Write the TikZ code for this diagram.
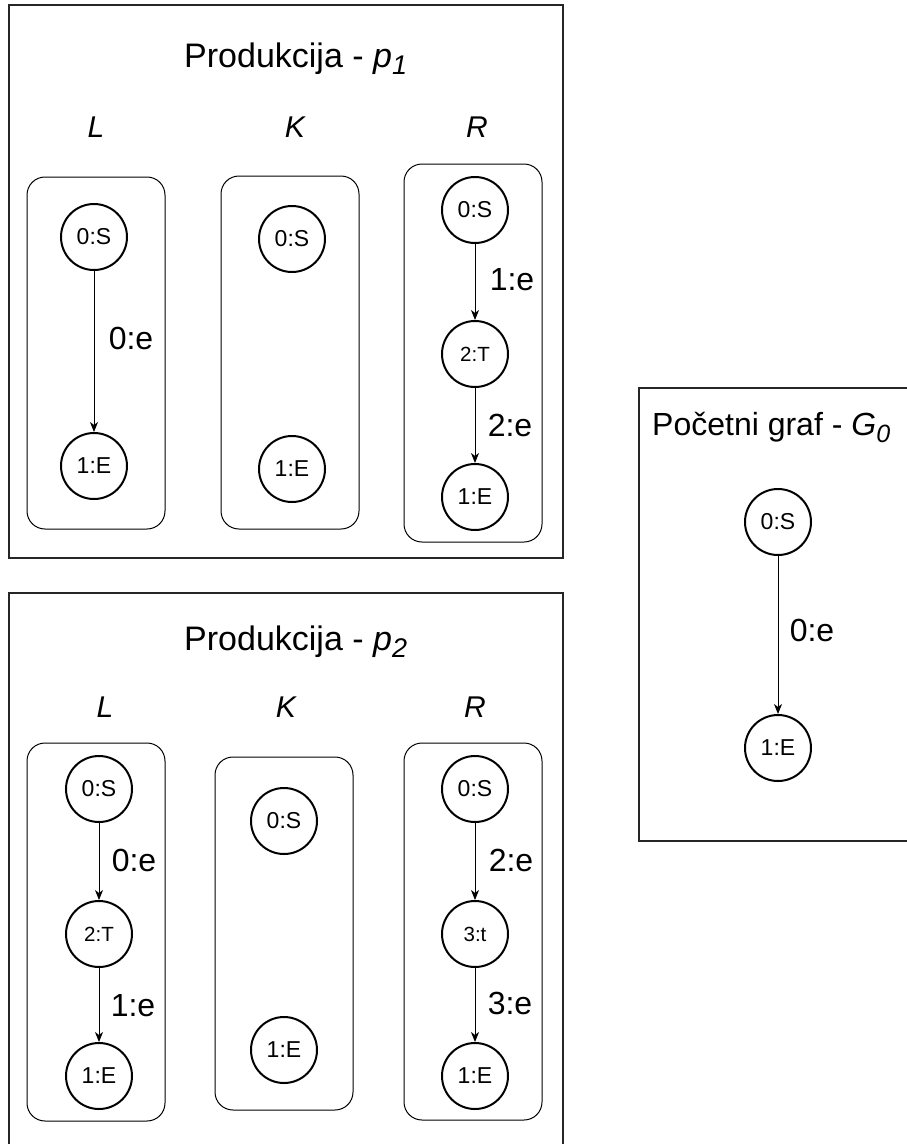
\documentclass[tikz,border=0pt]{standalone}
\usepackage{fontspec}
\setmainfont{Liberation Sans}
\usetikzlibrary{arrows.meta}
\tikzset{
  outerbox/.style={draw=black!85, line width=1.3pt},
  innerbox/.style={draw=black, rounded corners=18pt, line width=1pt},
  gnode/.style={circle, draw=black, line width=2pt, minimum size=66pt, inner sep=0pt, font=\fontsize{23}{23}\selectfont},
  tnode/.style={gnode, font=\fontsize{20.5}{20.5}\selectfont},
  arr/.style={draw=black, line width=1pt, -{Stealth[length=10pt,width=8pt,inset=3pt]}},
  elabel/.style={inner sep=0pt, font=\fontsize{32}{32}\selectfont},
  title/.style={inner sep=0pt, anchor=base west, font=\fontsize{34}{34}\selectfont},
  part/.style={inner sep=0pt, anchor=base, font=\fontsize{30}{30}\selectfont\itshape},
}
\newcommand{\subidx}[2][27]{\raisebox{-7pt}{\fontsize{#1}{#1}\selectfont\itshape #2}}
\begin{document}
\begin{tikzpicture}[x=1pt,y=-1pt]
\useasboundingbox (0,0) rectangle (906,1144);

% ---------- Produkcija p1 ----------
\draw[outerbox] (9,5) rectangle (563,558);
\node[title] (t1) at (184,67) {Produkcija - {\itshape p}\subidx{1}};
\node[part] (p1L) at (96,137) {L};
\node[part] (p1K) at (295,137) {K};
\node[part] (p1R) at (477,137) {R};

\draw[innerbox] (27,177) rectangle (165,529);
\draw[innerbox] (221,176) rectangle (359,529);
\draw[innerbox] (404,164) rectangle (542,542);

\node[gnode] (a0) at (94,237) {0:S};
\node[gnode] (a1) at (94,466) {1:E};
\draw[arr] (a0) -- (a1);
\node[elabel] (a0e) at (131,338) {0:e};

\node[gnode] (b0) at (292,239) {0:S};
\node[gnode] (b1) at (292,469) {1:E};

\node[gnode] (c0) at (475,210) {0:S};
\node[tnode] (c2) at (475,354) {2:T};
\node[gnode] (c1) at (475,497) {1:E};
\draw[arr] (c0) -- (c2);
\draw[arr] (c2) -- (c1);
\node[elabel] (c1e) at (512,280) {1:e};
\node[elabel] (c2e) at (510,425) {2:e};

% ---------- Produkcija p2 ----------
\draw[outerbox] (9,1150) -- (9,593) -- (563,593) -- (563,1150);
\node[title] (t2) at (184,650) {Produkcija - {\itshape p}\subidx{2}};
\node[part] (p2L) at (105,717) {L};
\node[part] (p2K) at (286,717) {K};
\node[part] (p2R) at (475,717) {R};

\draw[innerbox] (27,743) rectangle (165,1121);
\draw[innerbox] (215,757) rectangle (353,1110);
\draw[innerbox] (404,743) rectangle (542,1120);

\node[gnode] (d0) at (99,789) {0:S};
\node[tnode] (d2) at (99,934) {2:T};
\node[gnode] (d1) at (99,1076) {1:E};
\draw[arr] (d0) -- (d2);
\draw[arr] (d2) -- (d1);
\node[elabel] (d0e) at (134,860) {0:e};
\node[elabel] (d1e) at (133,1006) {1:e};

\node[gnode] (e0) at (284,821) {0:S};
\node[gnode] (e1) at (284,1050) {1:E};

\node[gnode] (f0) at (475,789) {0:S};
\node[tnode] (f3) at (475,934) {3:t};
\node[gnode] (f1) at (475,1076) {1:E};
\draw[arr] (f0) -- (f3);
\draw[arr] (f3) -- (f1);
\node[elabel] (f2e) at (511,860) {2:e};
\node[elabel] (f3e) at (510,1003) {3:e};

% ---------- Pocetni graf G0 ----------
\draw[outerbox] (912,388) -- (639,388) -- (639,841) -- (912,841);
\node[title, font=\fontsize{32}{32}\selectfont] (t3) at (652,435) {Početni graf - {\itshape G}\subidx[25]{0}};
\node[gnode] (g0) at (778,522) {0:S};
\node[gnode] (g1) at (778,748) {1:E};
\draw[arr] (g0) -- (g1);
\node[elabel] (g0e) at (812,630) {0:e};
\end{tikzpicture}
\end{document}
